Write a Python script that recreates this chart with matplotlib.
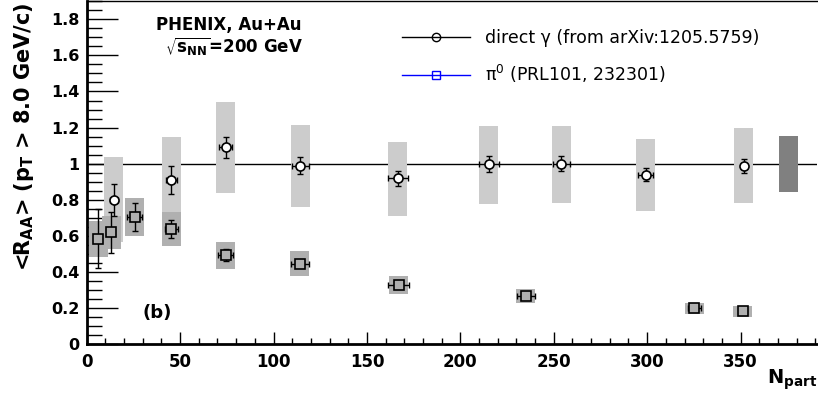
import numpy as np
import matplotlib
matplotlib.use("Agg")
import matplotlib.pyplot as plt
from matplotlib.patches import Rectangle
from matplotlib.lines import Line2D
from matplotlib.ticker import MultipleLocator, FuncFormatter

plt.rcParams['font.family'] = ['DejaVu Sans']
plt.rcParams['mathtext.fontset'] = 'dejavusans'

# direct photon (circles)
npart_g = [14.5, 45.3, 74.3, 114.3, 166.6, 215.3, 254.0, 299.2, 351.7]
raa_g = [0.80, 0.91, 1.09, 0.99, 0.92, 1.00, 1.00, 0.94, 0.99]
stat_g = [0.09, 0.075, 0.058, 0.048, 0.042, 0.044, 0.042, 0.038, 0.039]
xerr_g = [2.0, 3.1, 3.6, 4.5, 5.5, 5.4, 4.5, 3.9, 1.3]
sys_lo_g = [0.568, 0.733, 0.836, 0.762, 0.712, 0.779, 0.785, 0.740, 0.785]
sys_hi_g = [1.038, 1.150, 1.342, 1.215, 1.121, 1.209, 1.209, 1.137, 1.198]

# pi0 (squares)
npart_p = [6.2, 13.2, 25.7, 45.3, 74.3, 114.1, 166.9, 235.1, 325.3, 351.2]
raa_p = [0.585, 0.62, 0.705, 0.64, 0.495, 0.447, 0.329, 0.269, 0.199, 0.183]
stat_p = [0.163, 0.112, 0.075, 0.051, 0.035, 0.012, 0.01, 0.01, 0.01, 0.01]
xerr_p = [0, 0, 3.9, 3.5, 3.9, 4.7, 5.5, 4.8, 3.5, 1.0]
sys_lo_p = [0.485, 0.528, 0.602, 0.546, 0.419, 0.380, 0.280, 0.231, 0.170, 0.151]
sys_hi_p = [0.683, 0.711, 0.811, 0.733, 0.567, 0.517, 0.378, 0.308, 0.227, 0.212]

# global normalisation
norm_x = 375.4
norm_lo, norm_hi = 0.846, 1.154

box_hw = 5.1
light = '#cccccc'
dark = '#b0b0b0'

fig = plt.figure(figsize=(8.18, 3.94), dpi=100)
ax = fig.add_axes([0.106, 0.126, 0.893, 0.871])
ax.set_xlim(0, 391)
ax.set_ylim(0, 1.9)

ax.axhline(1.0, color='black', lw=1.0, zorder=1)

for x, lo, hi in zip(npart_g, sys_lo_g, sys_hi_g):
    ax.add_patch(Rectangle((x - box_hw, lo), 2 * box_hw, hi - lo,
                           facecolor=light, edgecolor='none', zorder=2))
for x, lo, hi in zip(npart_p, sys_lo_p, sys_hi_p):
    ax.add_patch(Rectangle((x - box_hw, lo), 2 * box_hw, hi - lo,
                           facecolor=dark, edgecolor='none', zorder=3))
ax.add_patch(Rectangle((norm_x - box_hw, norm_lo), 2 * box_hw, norm_hi - norm_lo,
                       facecolor='#808080', edgecolor='none', zorder=3))

ax.errorbar(npart_g, raa_g, yerr=stat_g, xerr=xerr_g, fmt='none',
            ecolor='black', elinewidth=1.0, capsize=2.5, capthick=1.0, zorder=4)
ax.errorbar(npart_p, raa_p, yerr=stat_p, xerr=xerr_p, fmt='none',
            ecolor='black', elinewidth=1.0, capsize=2.5, capthick=1.0, zorder=4)
ax.plot(npart_g, raa_g, 'o', ms=6.5, mfc='white', mec='black', mew=1.2, zorder=5)
ax.plot(npart_p, raa_p, 's', ms=6.5, mfc=dark, mec='black', mew=1.2, zorder=5)

handles = [Line2D([], [], color='black', lw=1, marker='o', ms=6, mfc='none', mec='black'),
           Line2D([], [], color='blue', lw=1, marker='s', ms=6, mfc='none', mec='blue')]
labels = ['direct γ (from arXiv:1205.5759)', 'π$^0$ (PRL101, 232301)']
ax.legend(handles, labels, loc='upper left', bbox_to_anchor=(0.431, 0.92),
          frameon=False, fontsize=12.5, handlelength=3.95, handletextpad=0.88,
          labelspacing=0.95, borderaxespad=0, borderpad=0)

ax.text(0.0945, 0.915, 'PHENIX, Au+Au', transform=ax.transAxes, fontsize=12,
        fontweight='bold', va='baseline', ha='left')
ax.text(0.107, 0.849, r'$\sqrt{\mathbf{s}_{\mathbf{NN}}}$=200 GeV', transform=ax.transAxes,
        fontsize=12, fontweight='bold', va='baseline', ha='left')
ax.text(0.077, 0.077, '(b)', transform=ax.transAxes, fontsize=13,
        fontweight='bold', va='baseline', ha='left')

ax.xaxis.set_major_locator(MultipleLocator(50))
ax.xaxis.set_minor_locator(MultipleLocator(10))
ax.yaxis.set_major_locator(MultipleLocator(0.2))
ax.yaxis.set_minor_locator(MultipleLocator(0.05))
ax.yaxis.set_major_formatter(FuncFormatter(lambda v, p: '%g' % round(v, 2)))
ax.tick_params(axis='x', which='major', direction='in', length=9, width=1, pad=6)
ax.tick_params(axis='x', which='minor', direction='in', length=4.5, width=1)
ax.tick_params(axis='y', which='major', direction='in', length=22, width=1, pad=5)
ax.tick_params(axis='y', which='minor', direction='in', length=11, width=1)
for lab in ax.get_xticklabels():
    lab.set_fontweight('bold')
    lab.set_fontsize(12)
for lab in ax.get_yticklabels():
    lab.set_fontweight('bold')
    lab.set_fontsize(11.5)

ax.spines['left'].set_linewidth(2)
ax.spines['bottom'].set_linewidth(2)
ax.spines['top'].set_linewidth(1)
ax.spines['right'].set_visible(False)

ax.set_ylabel(r'<R$_{\mathbf{AA}}$> (p$_{\mathbf{T}}$ > 8.0 GeV/c)', fontsize=15,
              fontweight='bold')
ax.yaxis.set_label_coords(-0.069, 0.605)
ax.set_xlabel(r'N$_{\mathbf{part}}$', fontsize=14, fontweight='bold', loc='right',
              labelpad=-2)

fig.savefig('out.png', dpi=100)
